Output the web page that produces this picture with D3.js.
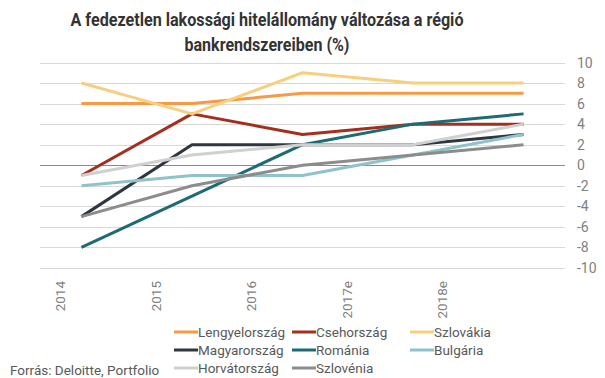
<!DOCTYPE html>
<html><head><meta charset="utf-8">
<script src="https://cdn.jsdelivr.net/npm/d3@7"></script>
<style>body{margin:0;background:#fff}svg{display:block}text{font-family:Roboto,"Noto Sans",sans-serif}</style>
</head><body><svg id="c" width="605" height="378"></svg>
<script>
const years = ["2014","2015","2016","2017e","2018e"];
const seriesNames = ["Lengyelország","Csehország","Szlovákia","Magyarország","Románia","Bulgária","Horvátország","Szlovénia"];
const colors = ["#f79a45","#a3301e","#f7d07f","#2f3640","#1d6b74","#8ec3cb","#d0d0d0","#8c8c8c"];
const lengyel = [6,6,7,7,7];
const cseh = [-1,5,3,4,4];
const szlovakia = [8,5,9,8,8];
const magyar = [-5,2,2,2,3];
const romania = [-8,-3,2,4,5];
const bulgaria = [-2,-1,-1,1,3];
const horvat = [-1,1,2,2,4];
const szlovenia = [-5,-2,0,1,2];
const yTicks = [10,8,6,4,2,0,-2,-4,-6,-8,-10];
const values = [lengyel,cseh,szlovakia,magyar,romania,bulgaria,horvat,szlovenia];

const svg = d3.select("#c");
const x = d3.scalePoint().domain(years).range([40,565]).padding(0.375);
const xLab = d3.scalePoint().domain(years).range([60,442]);
const y = d3.scaleLinear().domain([-10,10]).range([268,62.5]);

// grid
svg.append("g").selectAll("line").data(yTicks).join("line")
  .attr("x1",40).attr("x2",565)
  .attr("y1",d=>Math.round(y(d))+0.5).attr("y2",d=>Math.round(y(d))+0.5)
  .attr("stroke",d=>d===0?"#8a8a8a":"#d9d9d9").attr("stroke-width",1);

// y labels
svg.append("g").selectAll("text").data(yTicks).join("text")
  .attr("x",577).attr("y",d=>y(d)+5)
  .attr("fill","#7f7f7f").attr("font-size",14).text(d=>d);

// x labels
svg.append("g").selectAll("text").data(years).join("text")
  .attr("transform",d=>`translate(${xLab(d)+5},281) rotate(-90)`)
  .attr("text-anchor","end").attr("fill","#7f7f7f").attr("font-size",13.5).text(d=>d);

// lines
const line = d3.line().x((d,i)=>x(years[i])).y(d=>y(d));
svg.append("g").selectAll("path").data(values).join("path")
  .attr("d",line).attr("fill","none")
  .attr("stroke",(d,i)=>colors[i]).attr("stroke-width",3).attr("stroke-linejoin","round");

// title
svg.append("text").attr("x",267).attr("y",26).attr("text-anchor","middle")
  .attr("font-size",18).attr("font-weight","bold").attr("fill","#333")
  .attr("textLength",393).attr("lengthAdjust","spacingAndGlyphs")
  .text("A fedezetlen lakossági hitelállomány változása a régió");
svg.append("text").attr("x",267).attr("y",51).attr("text-anchor","middle")
  .attr("font-size",18).attr("font-weight","bold").attr("fill","#333")
  .attr("textLength",165).attr("lengthAdjust","spacingAndGlyphs")
  .text("bankrendszereiben (%)");

// legend
const colX = [174,292,410];
const rowY = [332,350,368];
const lg = svg.append("g").selectAll("g").data(seriesNames).join("g")
  .attr("transform",(d,i)=>`translate(${colX[i%3]},${rowY[Math.floor(i/3)]})`);
lg.append("line").attr("x1",0).attr("x2",24).attr("y1",0).attr("y2",0)
  .attr("stroke",(d,i)=>colors[i]).attr("stroke-width",3);
lg.append("text").attr("x",24).attr("y",5).attr("font-size",13.5).attr("fill","#595959").text(d=>d);

svg.append("text").attr("x",10).attr("y",375).attr("font-size",13.5).attr("fill","#595959")
  .text("Forrás: Deloitte, Portfolio");
</script></body></html>
